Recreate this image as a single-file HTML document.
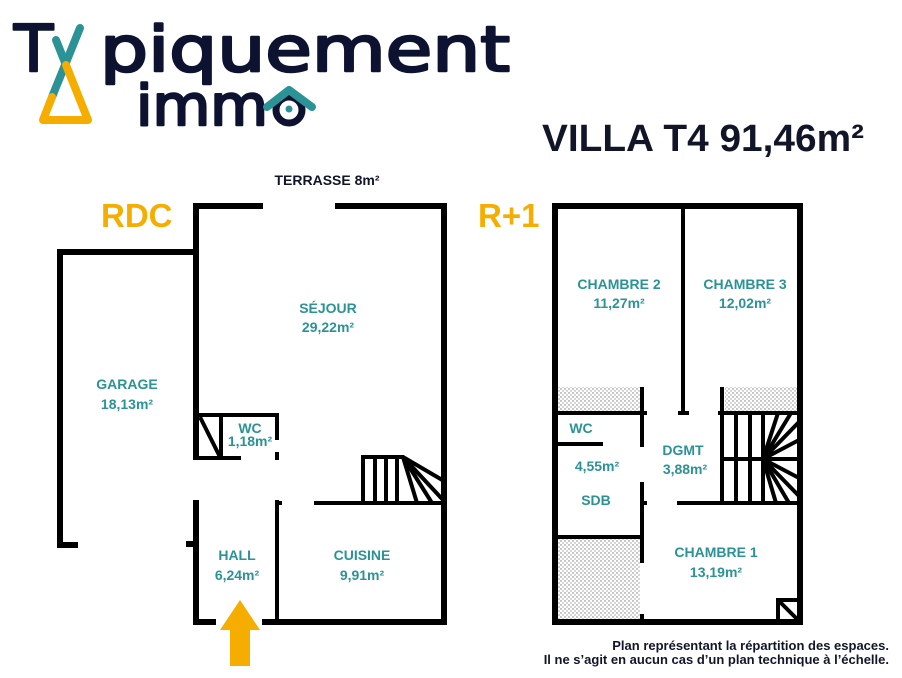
<!DOCTYPE html>
<html><head><meta charset="utf-8"><style>
html,body{margin:0;padding:0;background:#fff;}
svg{display:block;}
.t{font-family:"Liberation Sans",sans-serif;font-weight:bold;fill:#2b9296;font-size:14px;text-anchor:middle;}
.w{stroke:#000;stroke-width:6;fill:none;stroke-linecap:butt;}
.s{stroke:#000;stroke-width:4;fill:none;}
</style></head><body>
<svg width="902" height="678" viewBox="0 0 902 678" xmlns="http://www.w3.org/2000/svg">
<defs>
<pattern id="dots" width="4" height="4" patternUnits="userSpaceOnUse"><rect width="4" height="4" fill="#fff"/><circle cx="1" cy="1" r="0.7" fill="#777"/><circle cx="3" cy="3" r="0.7" fill="#999"/></pattern>
</defs>
<!-- Logo -->
<g font-family="'DejaVu Sans','Liberation Sans',sans-serif" fill="#0d1230" stroke="#0d1230" stroke-width="2.5" stroke-linejoin="round">
<text x="14" y="71" font-size="64">T</text>
<text x="100" y="71" font-size="62" textLength="410" lengthAdjust="spacingAndGlyphs">piquement</text>
<text x="136" y="125" font-size="56" textLength="132" lengthAdjust="spacingAndGlyphs">imm</text>
</g>
<line x1="80" y1="28" x2="52" y2="97" stroke="#2b9296" stroke-width="8" stroke-linecap="round"/>
<line x1="56" y1="40" x2="66" y2="65" stroke="#2b9296" stroke-width="8" stroke-linecap="round"/>
<polyline points="52,97 43,120 88,120 66,65" fill="none" stroke="#f5ae00" stroke-width="8" stroke-linecap="round" stroke-linejoin="round"/>
<circle cx="289" cy="110" r="13" fill="none" stroke="#0d1230" stroke-width="7"/>
<circle cx="289" cy="109" r="3.5" fill="#2b9296"/>
<polyline points="267,107 289,90 312,107" fill="none" stroke="#2b9296" stroke-width="8" stroke-linecap="round" stroke-linejoin="round"/>
<!-- Title -->
<text x="542" y="151" font-family="'Liberation Sans',sans-serif" font-weight="bold" font-size="38" fill="#111528" textLength="322" lengthAdjust="spacingAndGlyphs">VILLA T4 91,46m²</text>
<text x="101" y="227" font-family="'Liberation Sans',sans-serif" font-weight="bold" font-size="33" fill="#f5ae00">RDC</text>
<text x="478" y="227" font-family="'Liberation Sans',sans-serif" font-weight="bold" font-size="33" fill="#f5ae00">R+1</text>
<text x="327" y="185" font-family="'Liberation Sans',sans-serif" font-weight="bold" font-size="14" fill="#111528" text-anchor="middle">TERRASSE 8m²</text>

<!-- RDC walls -->
<polyline class="w" points="263,206 196,206 196,460"/>
<polyline class="w" points="335,206 444,206 444,622 262,622"/>
<polyline class="w" points="196,500 196,622 216,622"/>
<polyline class="w" points="197,252 60,252 60,545 78,545"/>
<line class="w" x1="186" y1="544" x2="196" y2="544"/>
<!-- WC -->
<polyline class="s" points="196,415 277,415 277,440"/>
<line class="s" x1="196" y1="458" x2="241" y2="458"/>
<line class="s" x1="277" y1="452" x2="277" y2="460"/>
<line class="s" x1="221" y1="415" x2="221" y2="458"/>
<line class="s" x1="200" y1="417" x2="220" y2="457"/>
<!-- hall/cuisine -->
<line class="s" x1="277" y1="500" x2="277" y2="620"/>
<line class="s" x1="275" y1="503" x2="282" y2="503"/>
<line class="s" x1="314" y1="503" x2="444" y2="503"/>
<!-- stair RDC -->
<line class="s" x1="361" y1="457" x2="404" y2="457"/>
<line class="s" x1="363" y1="457" x2="363" y2="503"/>
<line class="s" x1="375" y1="457" x2="375" y2="503"/>
<line class="s" x1="386" y1="457" x2="386" y2="503"/>
<line class="s" x1="397" y1="457" x2="397" y2="503"/>
<line class="s" x1="403" y1="457" x2="444" y2="481"/>
<line class="s" x1="403" y1="457" x2="444" y2="501"/>
<line class="s" x1="403" y1="457" x2="417" y2="503"/>
<line class="s" x1="403" y1="457" x2="432" y2="503"/>
<!-- arrow -->
<polygon points="240,600 260,630 250,630 250,666 230,666 230,630 220,630" fill="#f5ae00"/>

<!-- R+1 -->
<rect x="557" y="387" width="83" height="24" fill="url(#dots)"/>
<rect x="725" y="387" width="73" height="24" fill="url(#dots)"/>
<rect x="557" y="538" width="83" height="81" fill="url(#dots)"/>
<rect class="w" x="555" y="206" width="245" height="416"/>
<line class="s" x1="683" y1="206" x2="683" y2="413"/>
<line class="s" x1="678" y1="413" x2="689" y2="413"/>
<line class="s" x1="555" y1="413" x2="647" y2="413"/>
<line class="s" x1="642" y1="387" x2="642" y2="447"/>
<line class="s" x1="642" y1="482" x2="642" y2="563"/>
<line class="s" x1="642" y1="614" x2="642" y2="620"/>
<line class="s" x1="640" y1="503" x2="647" y2="503"/>
<line class="s" x1="555" y1="444" x2="603" y2="444"/>
<line class="s" x1="555" y1="537" x2="642" y2="537"/>
<!-- stair R+1 -->
<line class="s" x1="722" y1="387" x2="722" y2="503"/>
<line class="s" x1="718" y1="413" x2="800" y2="413"/>
<line class="s" x1="722" y1="459" x2="800" y2="459"/>
<line class="s" x1="677" y1="503" x2="800" y2="503"/>
<line class="s" x1="736" y1="413" x2="736" y2="503"/>
<line class="s" x1="750" y1="413" x2="750" y2="503"/>
<line class="s" x1="763" y1="413" x2="763" y2="503"/>
<g class="s">
<line x1="763" y1="459" x2="778" y2="413"/>
<line x1="763" y1="459" x2="791" y2="413"/>
<line x1="763" y1="459" x2="799" y2="422"/>
<line x1="763" y1="459" x2="799" y2="440"/>
<line x1="763" y1="459" x2="799" y2="478"/>
<line x1="763" y1="459" x2="799" y2="496"/>
<line x1="763" y1="459" x2="789" y2="503"/>
<line x1="763" y1="459" x2="776" y2="503"/>
</g>
<polyline class="s" points="778,622 778,600 800,600"/>
<line class="s" x1="778" y1="600" x2="800" y2="622"/>

<!-- labels -->
<text class="t" x="328" y="313">SÉJOUR</text>
<text class="t" x="328" y="332">29,22m²</text>
<text class="t" x="127" y="389">GARAGE</text>
<text class="t" x="127" y="409">18,13m²</text>
<text class="t" x="250" y="433">WC</text>
<text class="t" x="250" y="446" font-size="12.5">1,18m²</text>
<text class="t" x="237" y="560">HALL</text>
<text class="t" x="237" y="580">6,24m²</text>
<text class="t" x="362" y="560">CUISINE</text>
<text class="t" x="362" y="580">9,91m²</text>
<text class="t" x="619" y="289">CHAMBRE 2</text>
<text class="t" x="619" y="308">11,27m²</text>
<text class="t" x="745" y="289">CHAMBRE 3</text>
<text class="t" x="745" y="308">12,02m²</text>
<text class="t" x="581" y="433">WC</text>
<text class="t" x="597" y="471">4,55m²</text>
<text class="t" x="596" y="505">SDB</text>
<text class="t" x="683" y="455">DGMT</text>
<text class="t" x="685" y="474">3,88m²</text>
<text class="t" x="716" y="557">CHAMBRE 1</text>
<text class="t" x="716" y="577">13,19m²</text>
<g font-family="'Liberation Sans',sans-serif" font-weight="bold" font-size="13" fill="#111528" text-anchor="end">
<text x="889" y="650">Plan représentant la répartition des espaces.</text>
<text x="889" y="664">Il ne s’agit en aucun cas d’un plan technique à l’échelle.</text>
</g>
</svg>
</body></html>
